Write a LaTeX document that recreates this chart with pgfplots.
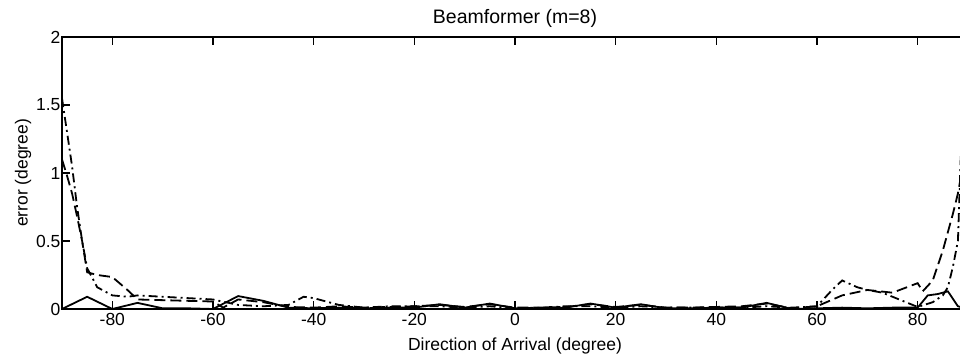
\documentclass[border=0pt]{standalone}
\usepackage{pgfplots}
\pgfplotsset{compat=1.18}
\usepackage{fontspec}
\setmainfont{Liberation Sans}
\begin{document}
\begin{tikzpicture}
\begin{axis}[
  at={(0,0)}, anchor=south west,
  scale only axis, width=906pt, height=272pt,
  xmin=-90, xmax=90, ymin=0, ymax=2,
  xtick={-80,-60,-40,-20,0,20,40,60,80},
  ytick={0,0.5,1,1.5,2},
  tick align=inside, major tick length=8pt,
  tick style={line width=1.4pt, black},
  axis line style={line width=1.8pt},
  /pgf/number format/assume math mode=true,
  tick label style={font=\fontsize{17.5}{20}\selectfont},
  xticklabel style={yshift=-1pt},
  yticklabel style={xshift=2pt},
  title={Beamformer (m=8)},
  title style={font=\fontsize{19.5}{22}\selectfont, yshift=0pt},
  xlabel={Direction of Arrival (degree)},
  xlabel style={font=\fontsize{17.5}{20}\selectfont, yshift=-5pt},
  ylabel={error (degree)},
  ylabel style={font=\fontsize{17.5}{20}\selectfont, yshift=-2pt},
  clip=true,
]
% solid
\addplot[black, line width=1.8pt] coordinates {
(-90,0) (-85,0.09) (-80,0) (-75,0.045) (-70,0.005) (-65,0.005) (-60,0) (-55,0.095) (-50,0.06) (-45,0.01) (-40,0.005) (-35,0.01) (-30,0.005) (-25,0.01) (-20,0.01) (-15,0.035) (-10,0.01) (-5,0.04) (0,0.005) (5,0.005) (10,0.01) (15,0.04) (20,0.01) (25,0.035) (30,0.005) (35,0.005) (40,0.01) (45,0.01) (50,0.045) (55,0) (60,0.005) (65,0.01) (70,0.005) (75,0.01) (80,0.01) (82,0.1) (84,0.11) (86,0.13) (88,0.02) (90,0)
};
% dashed
\addplot[black, line width=1.8pt, dash pattern=on 11pt off 5pt] coordinates {
(-90,1.1) (-89,0.98) (-88,0.85) (-87,0.68) (-86,0.5) (-85,0.27) (-83,0.25) (-80,0.235) (-77,0.14) (-75,0.07) (-70,0.065) (-65,0.06) (-60,0.055) (-58,0.01) (-55,0.07) (-50,0.05) (-45,0.015) (-40,0.01) (-35,0.02) (-30,0.01) (-25,0.015) (-20,0.02) (-15,0.03) (-10,0.015) (-5,0.035) (0,0.01) (5,0.01) (10,0.015) (15,0.035) (20,0.015) (25,0.03) (30,0.01) (35,0.01) (40,0.015) (45,0.02) (50,0.04) (55,0.005) (60,0.02) (65,0.1) (70,0.14) (75,0.12) (80,0.19) (81,0.13) (83,0.21) (85,0.43) (87,0.7) (88,0.85) (89,1.05) (90,1.3)
};
% dash-dot
\addplot[black, line width=1.8pt, dash pattern=on 9pt off 4pt on 2pt off 4pt] coordinates {
(-90,1.55) (-89,1.3) (-88,1.05) (-87,0.75) (-86,0.5) (-85,0.3) (-83,0.16) (-80,0.1) (-77,0.09) (-75,0.1) (-70,0.09) (-65,0.08) (-60,0.07) (-55,0.03) (-50,0.02) (-45,0.03) (-42,0.09) (-40,0.08) (-35,0.03) (-30,0.01) (-25,0.02) (-20,0.02) (-15,0.02) (-10,0.01) (-5,0.02) (0,0.005) (5,0.01) (10,0.02) (15,0.02) (20,0.01) (25,0.02) (30,0.01) (35,0.01) (40,0.01) (45,0.01) (50,0.02) (55,0.01) (60,0.02) (63,0.14) (65,0.21) (68,0.16) (70,0.14) (73,0.12) (77,0.06) (80,0.015) (83,0.05) (85,0.1) (86,0.16) (87,0.31) (88,0.5) (89,1.6) (90,2.0)
};
\end{axis}
\pgfresetboundingbox
\useasboundingbox (-62pt,-49pt) rectangle (898pt,309pt);
\end{tikzpicture}
\end{document}
